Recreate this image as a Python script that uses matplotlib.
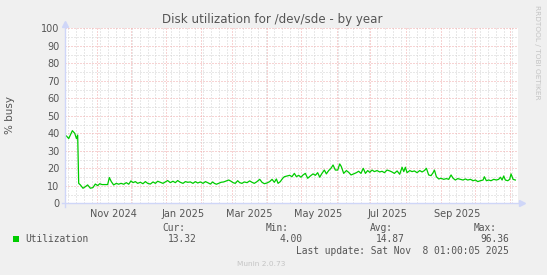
import datetime as dt
import matplotlib
matplotlib.use("Agg")
from matplotlib import pyplot as plt
from matplotlib.patches import Rectangle

# munin "by year" disk utilization
start = dt.datetime(2024, 10, 4, 1, 0)
span_days = 400

# day offsets from start and % busy
days = [1.2, 3.3, 6.5, 8.6, 10.1, 11.2, 12.1, 13.6, 15.9, 18.0, 20.0, 22.4, 24.7, 26.8,
        28.9, 30.7, 32.7, 35.7, 37.7, 39.2, 40.9, 43.0, 45.4, 47.4, 49.5, 51.9, 54.2,
        56.3, 58.3, 60.1, 62.2, 64.2, 66.6, 68.9, 71.0, 73.1, 75.4, 77.8, 79.9, 81.9,
        84.3, 86.6, 88.7, 90.7, 93.1, 95.4, 97.5, 99.6, 101.9, 104.3, 106.4, 108.4,
        110.8, 113.1, 115.2, 117.3, 119.6, 122.0, 124.1, 126.1, 128.5, 130.5, 132.0,
        133.8, 135.8, 137.9, 140.2, 142.6, 144.7, 146.7, 148.5, 150.5, 152.6, 154.4,
        156.4, 158.5, 160.9, 163.2, 165.3, 167.3, 169.7, 172.1, 174.1, 176.2, 178.5,
        180.9, 183.0, 185.0, 186.8, 188.3, 190.3, 192.4, 193.9, 196.2, 198.6, 200.6,
        202.7, 204.5, 206.5, 208.6, 210.4, 212.4, 214.5, 216.8, 219.2, 221.3, 223.3,
        225.1, 227.1, 229.2, 231.0, 233.0, 235.1, 236.9, 238.9, 241.0, 242.8, 244.2,
        246.3, 248.7, 250.7, 252.8, 255.1, 257.5, 259.5, 261.6, 263.6, 265.5, 267.5,
        269.3, 271.4, 273.4, 275.8, 278.1, 280.2, 282.3, 284.6, 287.0, 289.0, 291.1,
        293.5, 295.8, 297.9, 299.4, 300.8, 302.3, 304.7, 306.7, 308.8, 311.1, 313.5,
        315.6, 317.6, 319.4, 321.4, 323.5, 325.3, 326.5, 328.2, 330.3, 332.3, 334.7,
        337.1, 339.1, 341.2, 343.0, 345.0, 347.1, 349.4, 351.8, 353.9, 355.9, 358.3,
        360.6, 362.7, 364.8, 367.1, 369.5, 370.6, 372.4, 374.5, 376.5, 378.9, 381.3,
        383.3, 384.8, 386.3, 387.7, 389.2, 391.3, 393.0, 394.2, 396.0, 398.0]
util = [38.5, 37.0, 41.5, 40.0, 37.0, 39.0, 11.4, 10.5, 8.6, 9.5, 10.5, 8.6, 9.0, 11.0,
        10.1, 11.2, 10.7, 10.7, 10.7, 14.7, 12.4, 10.5, 11.4, 10.9, 11.4, 10.9, 11.8,
        10.9, 12.8, 11.8, 12.4, 11.4, 12.0, 11.2, 12.4, 11.4, 11.0, 12.2, 11.4, 12.6,
        12.0, 11.4, 12.2, 13.0, 11.8, 12.6, 11.8, 13.0, 12.0, 11.4, 12.4, 12.0,
        12.2, 11.4, 12.4, 11.6, 12.2, 11.4, 12.4, 11.8, 11.0, 12.2, 11.4,
        10.9, 11.4, 12.0, 12.2, 12.8, 13.3, 12.6, 11.8, 11.4, 12.9, 11.8,
        11.4, 12.2, 11.8, 12.8, 12.0, 11.4, 12.4, 13.7, 12.0, 11.2, 11.6,
        12.4, 13.7, 12.0, 13.9, 11.4, 12.4, 14.3, 15.2, 15.6, 16.0, 15.2,
        17.1, 15.2, 16.0, 14.9, 16.2, 17.1, 14.3, 15.6, 16.8, 16.0, 17.5,
        14.9, 17.1, 19.0, 16.8, 18.7, 20.0, 21.9, 19.0, 19.0, 22.5, 21.0,
        17.1, 18.7, 17.7, 16.2, 16.8, 17.5, 18.3, 17.1, 20.0, 17.1, 18.7,
        17.7, 19.0, 18.1, 18.7, 17.9, 18.3, 17.5, 19.0, 18.5, 17.9, 17.1,
        18.5, 16.6, 20.6, 18.1, 20.6, 17.5, 18.7, 18.1, 18.5, 17.5, 18.7,
        17.9, 18.7, 20.0, 16.2, 15.8, 17.5, 19.0, 15.2, 13.9, 14.3, 13.7,
        14.1, 13.7, 16.2, 14.3, 13.3, 14.1, 13.7, 13.3, 13.9, 13.3, 13.7,
        12.9, 13.3, 12.4, 12.9, 13.3, 15.2, 12.9, 13.3, 12.9, 13.7, 13.3,
        13.7, 14.9, 13.3, 15.6, 13.3, 12.9, 13.7, 16.8, 13.7, 13.3]

tick_labels = ["Nov 2024", "Jan 2025", "Mar 2025", "May 2025", "Jul 2025", "Sep 2025"]
tick_dates = [dt.datetime(2024, 11, 16), dt.datetime(2025, 1, 16), dt.datetime(2025, 3, 16),
              dt.datetime(2025, 5, 16), dt.datetime(2025, 7, 16), dt.datetime(2025, 9, 16)]

stats_names = ["Cur:", "Min:", "Avg:", "Max:"]
stats_values = ["13.32", "4.00", "14.87", "96.36"]

BG = "#f0f0f0"
FONT = "#555555"
AXIS = "#cfd6f8"
MGRID = "#f0a8a8"
GRID = "#d2d2d2"
LINE = "#00cc00"

W, H = 547, 275
fig = plt.figure(figsize=(W / 100, H / 100), dpi=100, facecolor=BG)
ax = fig.add_axes([65 / W, (H - 203.3) / H, 452.6 / W, 175 / H])
ax.set_facecolor("white")

end = start + dt.timedelta(days=span_days)
ax.set_xlim(start, end)
ax.set_ylim(0, 100)

dates = [start + dt.timedelta(days=d) for d in days]

# grid: weekly minor, monthly major, y minor every 5, major every 10
dash = (0, (1, 2))
d = start.replace(hour=0)
while d < end:
    if d.weekday() == 0 and d.day != 1:
        ax.axvline(d, color=GRID, lw=0.72, ls=dash, zorder=1)
    if d.day == 1:
        ax.axvline(d, color=MGRID, lw=0.72, ls=dash, zorder=1)
    d += dt.timedelta(days=1)
for y in range(5, 100, 10):
    ax.axhline(y, color=GRID, lw=0.72, ls=dash, zorder=1)
for y in range(10, 101, 10):
    ax.axhline(y, color=MGRID, lw=0.72, ls=dash, zorder=1)

ax.plot(dates, util, color=LINE, lw=0.9, zorder=3)

for s in ax.spines.values():
    s.set_visible(False)

# axis lines with arrows, munin style
ax.plot([-0.007, 1.008], [0, 0], transform=ax.transAxes, color=AXIS, lw=1, clip_on=False, zorder=4)
ax.plot([0, 0], [-0.023, 1.02], transform=ax.transAxes, color=AXIS, lw=1, clip_on=False, zorder=4)
ax.plot([1.01], [0], transform=ax.transAxes, marker=">", ms=4, color=AXIS, clip_on=False, zorder=4)
ax.plot([0], [1.025], transform=ax.transAxes, marker="^", ms=4, color=AXIS, clip_on=False, zorder=4)

ax.set_yticks(range(0, 101, 10))
ax.set_xticks(tick_dates)
ax.set_xticklabels(tick_labels)
ax.tick_params(length=0, labelsize=7, labelcolor=FONT)
ax.tick_params(axis="y", pad=4)
ax.tick_params(axis="x", pad=4)

fig.text(10 / W, 1 - 115 / H, "% busy", rotation=90, ha="center", va="center",
         fontsize=7.5, color=FONT)
fig.text(272 / W, 1 - 19 / H, "Disk utilization for /dev/sde - by year", ha="center",
         va="center", fontsize=8.6, color=FONT)
fig.text(537 / W, 1 - 5 / H, "RRDTOOL / TOBI OETIKER", rotation=270, ha="center", va="top",
         fontsize=5.3, color="#c4c4c4")

# legend block
mono = "DejaVu Sans Mono"
fig.patches.append(Rectangle((13 / W, 1 - 242 / H), 6 / W, 6 / H, transform=fig.transFigure,
                             facecolor=LINE, edgecolor="none"))
fig.text(25 / W, 1 - 239.5 / H, "Utilization", family=mono, fontsize=6.9, color=FONT, va="center")
name_right = [185, 289, 393, 497]
val_right = [197, 302, 405, 509]
for name, val, nx, vx in zip(stats_names, stats_values, name_right, val_right):
    fig.text(nx / W, 1 - 228 / H, name, family=mono, fontsize=6.9, color=FONT, ha="right", va="center")
    fig.text(vx / W, 1 - 239.5 / H, val, family=mono, fontsize=6.9, color=FONT, ha="right", va="center")
fig.text(509 / W, 1 - 251 / H, "Last update: Sat Nov  8 01:00:05 2025", family=mono, fontsize=6.9,
         color=FONT, ha="right", va="center")
fig.text(261 / W, 1 - 264 / H, "Munin 2.0.73", fontsize=5.3, color="#c4c4c4", ha="center", va="center")

fig.savefig("out.png", dpi=100, facecolor=BG)
